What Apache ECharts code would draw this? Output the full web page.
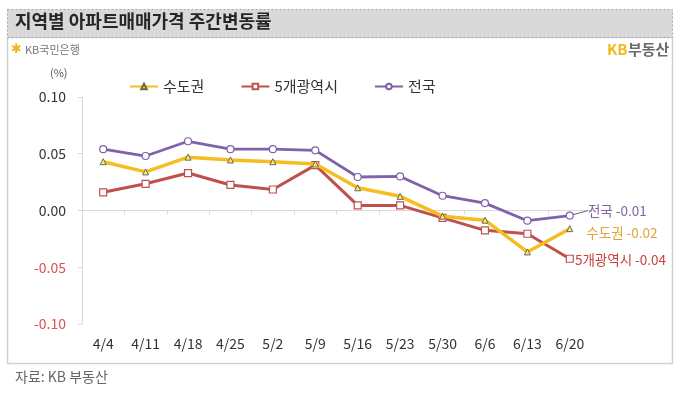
<!DOCTYPE html>
<html><head><meta charset="utf-8">
<script src="https://cdn.jsdelivr.net/npm/echarts@6/dist/echarts.min.js"></script>
<style>html,body{margin:0;padding:0;background:#fff}#c{width:680px;height:393px}</style>
</head><body><div id="c"></div>
<script>
const categories = ['4/4','4/11','4/18','4/25','5/2','5/9','5/16','5/23','5/30','6/6','6/13','6/20'];
const capital = [0.043,0.034,0.047,0.0445,0.043,0.041,0.020,0.0125,-0.005,-0.0085,-0.0365,-0.016];
const metro5 = [0.016,0.0235,0.033,0.0225,0.0185,0.040,0.0045,0.0045,-0.0065,-0.0175,-0.0205,-0.0425];
const nation = [0.054,0.048,0.061,0.054,0.054,0.053,0.0295,0.030,0.013,0.0065,-0.009,-0.0045];
const seriesNames = ['수도권','5개광역시','전국'];
const endLabels = ['수도권 -0.02','5개광역시 -0.04','전국 -0.01'];
const yTicks = [-0.10,-0.05,0.00,0.05,0.10];

const FONT = '"Noto Sans CJK KR","Noto Sans",sans-serif';
const chart = echarts.init(document.getElementById('c'));

function withEnd(arr, text, color, extra) {
  const d = arr.slice(0, -1);
  d.push(Object.assign({
    value: arr[arr.length-1],
    label: {show: true, position: 'right', formatter: text, color: color, fontSize: 13.5, fontFamily: FONT}
  }, extra || {}));
  return d;
}

chart.setOption({
  animation: false,
  textStyle: {fontFamily: FONT},
  graphic: [
    {type:'rect', shape:{x:7.5,y:9.5,width:665,height:28}, style:{fill:'#d9d9d9', stroke:'#a6a6a6', lineWidth:1, lineDash:[2,2]}},
    {type:'rect', shape:{x:7.5,y:37.5,width:665,height:326}, style:{fill:'none', stroke:'#d0d0d0', lineWidth:1.5}, z:-1},
    {type:'text', left:15, top:12, style:{text:'지역별 아파트매매가격 주간변동률', font:'bold 18px '+FONT, fill:'#262626'}},
    {type:'text', left:11, top:43, style:{text:'✱', font:'bold 13px "DejaVu Sans"', fill:'#f2b51c'}},
    {type:'text', left:25, top:44, style:{text:'KB국민은행', font:'11px '+FONT, fill:'#777'}},
    {type:'text', left:607, top:42, style:{text:'KB', font:'bold 15px '+FONT, fill:'#f5b81c'}},
    {type:'text', left:628, top:42, style:{text:'부동산', font:'bold 15px '+FONT, fill:'#6b6b6b'}},
    {type:'text', left:50, top:67, style:{text:'(%)', font:'11px '+FONT, fill:'#555'}},
    {type:'text', left:15, top:370, style:{text:'자료: KB 부동산', font:'14px '+FONT, fill:'#666'}}
  ],
  legend: {
    left: 124, top: 74, itemWidth: 28, itemHeight: 7, itemGap: 36,
    textStyle: {fontSize: 15, color: '#333', fontFamily: FONT},
    data: seriesNames
  },
  grid: {left: 82, right: 89, top: 97, bottom: 69, containLabel: false},
  xAxis: [
    {type:'category', data: categories, boundaryGap: true,
     axisLine:{show:true, onZero:true, lineStyle:{color:'#d9d9d9', width:1}},
     axisTick:{show:true, length:4, lineStyle:{color:'#d9d9d9'}},
     axisLabel:{show:false}},
    {type:'category', data: categories, boundaryGap: true, position:'bottom',
     axisLine:{show:false, onZero:false}, axisTick:{show:false},
     axisLabel:{show:true, margin:13, fontSize:14, color:'#333', fontFamily: FONT}}
  ],
  yAxis: {
    type:'value', min: yTicks[0], max: yTicks[yTicks.length-1], interval: 0.05,
    splitLine:{show:false},
    axisLine:{show:true, lineStyle:{color:'#d9d9d9'}},
    axisTick:{show:true, length:4, lineStyle:{color:'#d9d9d9'}},
    axisLabel:{fontSize:14, margin:16, fontFamily: FONT,
      formatter: v => v.toFixed(2),
      color: v => (v < -0.0001 ? '#d9534f' : '#333')}
  },
  series: [
    {name: seriesNames[0], type:'line', xAxisIndex:0, data: withEnd(capital, endLabels[0], '#e0a43a'),
     lineStyle:{color:'#f5bd1f', width:3.5}, itemStyle:{color:'#f5e6a0', borderColor:'#6d6a3a', borderWidth:1},
     color:'#f5bd1f', symbol:'triangle', symbolSize:6, z:3,
     labelLayout:{dx:8, dy:4}},
    {name: seriesNames[1], type:'line', xAxisIndex:0, data: withEnd(metro5, endLabels[1], '#c9403c'),
     lineStyle:{color:'#c0504d', width:3}, itemStyle:{color:'#fff', borderColor:'#c0504d', borderWidth:1.2},
     color:'#c0504d', symbol:'rect', symbolSize:7, z:2,
     labelLayout:{dx:-4, dy:1}},
    {name: seriesNames[2], type:'line', xAxisIndex:0, data: withEnd(nation, endLabels[2], '#8064a2', {labelLine:{show:true, lineStyle:{color:'#666', width:1}}}),
     lineStyle:{color:'#7e63a8', width:2.8}, itemStyle:{color:'#fff', borderColor:'#7e63a8', borderWidth:1.2},
     color:'#7e63a8', symbol:'circle', symbolSize:7, z:4,
     labelLayout:{dx:9, dy:-5}}
  ]
});
</script></body></html>
